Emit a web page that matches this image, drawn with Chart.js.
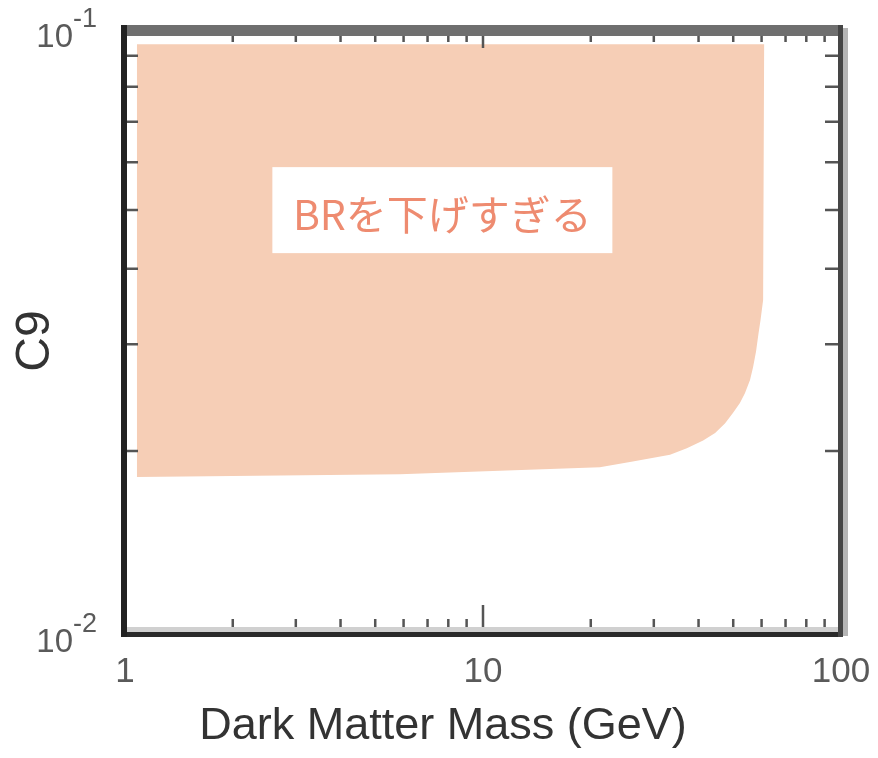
<!DOCTYPE html>
<html>
<head>
<meta charset="utf-8">
<script src="https://cdn.jsdelivr.net/npm/chart.js@4"></script>
<style>
  html, body { margin: 0; padding: 0; background: #fff; }
  #wrap { width: 878px; height: 758px; }
</style>
</head>
<body>
<div id="wrap"><canvas id="chart"></canvas></div>
<script>
// region boundary, traced clockwise: mass (GeV) and C9
const massValues = [1.08, 61, 60.6, 59.6, 58.8, 57.9, 56.8, 55.7, 53.9, 52.2, 49.9, 47.4, 44.5, 41.2, 37.1, 33.3, 26.2, 21.2, 5.86, 1.08];
const c9Values   = [0.094, 0.094, 0.0355, 0.0329, 0.0312, 0.0292, 0.0275, 0.0262, 0.0249, 0.0240, 0.0231, 0.0222, 0.0214, 0.0208, 0.0202, 0.0197, 0.0192, 0.0188, 0.0183, 0.0181];
const xTickValues = [1, 10, 100];
const yTickValues = [0.01, 0.1];
const yTickExponents = ['-2', '-1'];
const regionLabel = 'BRを下げすぎる';
const regionLabelAt = [7.7, 0.05];
const xTitle = 'Dark Matter Mass (GeV)';
const yTitle = 'C9';

const points = massValues.map((m, i) => ({ x: m, y: c9Values[i] }));

const decor = {
  id: 'decor',
  afterDatasetsDraw(chart) {
    const { ctx, scales: { x, y } } = chart;
    ctx.save();
    // label box
    const cx = x.getPixelForValue(regionLabelAt[0]);
    const cy = y.getPixelForValue(regionLabelAt[1]);
    ctx.fillStyle = '#fff';
    ctx.fillRect(cx - 170, cy - 43, 340, 86);
    ctx.fillStyle = '#ee8b70';
    ctx.font = '41px "Noto Sans CJK JP"';
    ctx.textAlign = 'center';
    ctx.textBaseline = 'middle';
    ctx.fillText(regionLabel, cx, cy + 4);
    ctx.restore();
  },
  afterDraw(chart) {
    const { ctx, chartArea: a, scales: { x, y } } = chart;
    ctx.save();
    // minor ticks
    ctx.strokeStyle = '#555';
    ctx.lineWidth = 2.5;
    ctx.beginPath();
    [1, 10].forEach(d => {
      for (let k = 2; k <= 9; k++) {
        const px = x.getPixelForValue(d * k);
        ctx.moveTo(px, a.bottom); ctx.lineTo(px, a.bottom - 14);
        ctx.moveTo(px, a.top); ctx.lineTo(px, a.top + 14);
      }
    });
    const p10 = x.getPixelForValue(10);
    ctx.moveTo(p10, a.bottom); ctx.lineTo(p10, a.bottom - 28);
    ctx.moveTo(p10, a.top); ctx.lineTo(p10, a.top + 20);
    for (let k = 2; k <= 9; k++) {
      const py = y.getPixelForValue(0.01 * k);
      ctx.moveTo(a.left, py); ctx.lineTo(a.left + 13, py);
      ctx.moveTo(a.right, py); ctx.lineTo(a.right - 16, py);
    }
    ctx.stroke();

    // frame
    ctx.fillStyle = '#6f6f6f';
    ctx.fillRect(a.left - 4, a.top - 3, a.right - a.left + 6, 11);
    ctx.fillStyle = '#d0d0d0';
    ctx.fillRect(a.left, a.bottom - 6, a.right - a.left, 5);
    ctx.fillStyle = '#2a2a2a';
    ctx.fillRect(a.left - 4, a.bottom - 1, a.right - a.left + 6, 5);
    ctx.fillStyle = '#b5b5b5';
    ctx.fillRect(a.right + 2, a.top, 5, a.bottom - a.top + 3);
    ctx.fillStyle = '#454545';
    ctx.fillRect(a.right - 3, a.top - 3, 5, a.bottom - a.top + 7);
    ctx.fillStyle = '#222';
    ctx.fillRect(a.left - 4, a.top - 3, 6, a.bottom - a.top + 7);

    // y tick labels 10^n
    ctx.fillStyle = '#5a5a5a';
    ctx.textBaseline = 'alphabetic';
    yTickValues.forEach((v, i) => {
      const py = y.getPixelForValue(v);
      ctx.font = '33px "Liberation Sans"';
      ctx.textAlign = 'right';
      ctx.fillText('10', 73, py + 19);
      ctx.font = '27px "Liberation Sans"';
      ctx.textAlign = 'left';
      ctx.fillText(yTickExponents[i], 73, py - 1);
    });

    // axis titles
    ctx.fillStyle = '#333';
    ctx.font = '45px "Liberation Sans"';
    ctx.textAlign = 'center';
    ctx.textBaseline = 'middle';
    ctx.fillText(xTitle, 443, 727);
    ctx.translate(36, 341);
    ctx.rotate(-Math.PI / 2);
    ctx.font = '48px "Liberation Sans"';
    ctx.fillText(yTitle, 0, 0);
    ctx.restore();
  }
};

new Chart(document.getElementById('chart'), {
  type: 'scatter',
  data: {
    datasets: [{
      data: points,
      showLine: true,
      fill: 'shape',
      backgroundColor: '#f6ceb6',
      borderWidth: 0,
      pointRadius: 0,
      tension: 0
    }]
  },
  options: {
    responsive: true,
    maintainAspectRatio: false,
    animation: false,
    layout: { padding: { top: 28, right: 37, left: 0, bottom: 0 } },
    plugins: { legend: { display: false }, tooltip: { enabled: false } },
    scales: {
      x: {
        type: 'logarithmic',
        min: 1,
        max: 100,
        grid: { display: false, drawTicks: false },
        border: { display: false },
        afterBuildTicks: s => { s.ticks = xTickValues.map(v => ({ value: v })); },
        afterFit: s => { s.height = 125; s.paddingLeft = 0; s.paddingRight = 0; },
        ticks: {
          autoSkip: false,
          maxRotation: 0,
          padding: 18,
          color: '#5a5a5a',
          font: { family: 'Liberation Sans', size: 35 },
          callback: v => String(v)
        }
      },
      y: {
        type: 'logarithmic',
        min: 0.01,
        max: 0.1,
        grid: { display: false, drawTicks: false },
        border: { display: false },
        ticks: { display: false },
        afterFit: s => { s.width = 125; s.paddingTop = 0; s.paddingBottom = 0; }
      }
    }
  },
  plugins: [decor]
});
</script>
</body>
</html>
